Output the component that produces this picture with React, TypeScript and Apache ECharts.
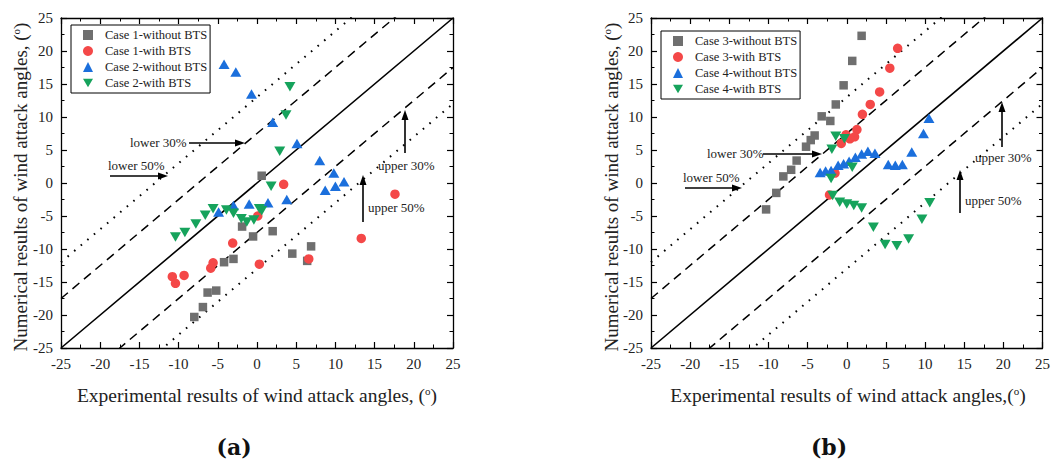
import React, { useEffect, useRef } from "react";
import * as echarts from "echarts";

// ---------- data (panel a) ----------
const case1Without = [
  [0.6, 1.1], [2.0, -7.3], [-0.5, -8.1], [-1.9, -6.6], [-3.0, -11.5], [-4.2, -12.0],
  [-5.2, -16.3], [-6.3, -16.6], [-6.9, -18.8], [-8.0, -20.3], [4.5, -10.7], [6.9, -9.6], [6.4, -11.8],
];
const case1With = [
  [-3.1, -9.1], [-5.6, -12.1], [-5.9, -12.9], [-9.3, -14.0], [-10.8, -14.2], [-10.4, -15.2],
  [0.1, -5.0], [0.3, -12.3], [3.4, -0.2], [17.6, -1.7], [13.3, -8.4], [6.6, -11.5],
];
const case2Without = [
  [-4.2, 18.0], [-2.7, 16.8], [-0.7, 13.5], [2.0, 9.2], [5.1, 6.0], [8.0, 3.4], [9.8, 1.5],
  [11.1, 0.2], [8.7, -1.1], [10.0, -0.5], [-1.0, -3.2], [1.4, -3.0], [3.8, -2.5], [-3.0, -3.4], [-4.9, -4.4],
];
const case2With = [
  [4.2, 14.6], [3.7, 10.3], [2.9, 4.8], [1.8, -0.5], [0.6, -4.2], [0.3, -3.9], [-0.4, -5.6],
  [-1.3, -5.9], [-2.0, -5.4], [-3.0, -4.6], [-3.9, -4.1], [-5.6, -3.9], [-6.6, -4.9], [-7.8, -6.2],
  [-9.2, -7.5], [-10.4, -8.2],
];

// ---------- data (panel b) ----------
const case3Without = [
  [1.9, 22.3], [0.7, 18.5], [-0.4, 14.8], [-1.4, 11.9], [-3.2, 10.1], [-2.1, 9.4], [-4.1, 7.2],
  [-4.6, 6.5], [-5.2, 5.5], [-6.4, 3.4], [-7.1, 2.0], [-8.1, 1.0], [-9.0, -1.5], [-10.3, -4.0],
];
const case3With = [
  [6.5, 20.4], [5.5, 17.4], [4.2, 13.8], [3.0, 11.9], [2.0, 10.4], [1.3, 8.1], [1.0, 7.0],
  [0.4, 6.7], [-0.1, 7.3], [-0.7, 6.0], [-1.5, 1.5], [-2.2, -1.8],
];
const case4Without = [
  [-3.4, 1.6], [-2.7, 1.8], [-2.0, 1.9], [-1.1, 2.7], [-0.4, 2.9], [0.3, 3.3], [1.1, 3.9],
  [1.9, 4.4], [2.7, 4.8], [3.6, 4.5], [5.3, 2.8], [6.2, 2.7], [7.1, 2.8], [8.3, 4.7], [9.8, 7.5], [10.5, 9.8],
];
const case4With = [
  [-1.4, 7.1], [-0.3, 6.7], [-1.9, 5.1], [0.7, 2.4], [-2.0, 0.7], [-1.8, -1.9], [-0.9, -2.9],
  [0.0, -3.2], [0.9, -3.4], [1.9, -3.8], [3.4, -6.7], [4.9, -9.3], [6.4, -9.5], [7.9, -8.5],
  [9.6, -5.5], [10.6, -3.0],
];

const legendA = ["Case 1-without BTS", "Case 1-with BTS", "Case 2-without BTS", "Case 2-with BTS"];
const legendB = ["Case 3-without BTS", "Case 3-with BTS", "Case 4-without BTS", "Case 4-with BTS"];

// reference lines: y = x + offset
const axisMin = -25;
const axisMax = 25;
const tickStep = 5;
const dashedOffset = 7.5;
const dottedOffset = 13;

const FONT = "'Liberation Serif', 'Times New Roman', serif";
const GRAY = "#6f6f6f";
const RED = "#f44848";
const BLUE = "#1b6fdc";
const GREEN = "#16a35c";
const DOWN_TRI = "path://M0,0L20,0L10,17Z";

function axis(gridIndex: number, position: string, showLabel: boolean) {
  return {
    type: "value",
    gridIndex,
    position,
    min: axisMin,
    max: axisMax,
    interval: tickStep,
    axisLine: { show: true, onZero: false, lineStyle: { color: "#000", width: 1.3 } },
    axisTick: { show: true, inside: true, length: 6, lineStyle: { color: "#000", width: 1.2 } },
    minorTick: { show: true, splitNumber: 2, length: 3.5, lineStyle: { color: "#000", width: 1 } },
    splitLine: { show: false },
    axisLabel: { show: showLabel, fontFamily: FONT, fontSize: 15, color: "#222", margin: 8 },
  };
}

function refLines(xi: number, yi: number) {
  const mk = (d: number, type: any, width: number) => ({
    type: "line",
    xAxisIndex: xi,
    yAxisIndex: yi,
    data: [[axisMin, axisMin + d], [axisMax, axisMax + d]],
    symbol: "none",
    silent: true,
    clip: true,
    lineStyle: { color: "#000", width, type },
    z: 1,
  });
  return [
    mk(0, "solid", 1.6),
    mk(dashedOffset, [9, 6], 1.5),
    mk(-dashedOffset, [9, 6], 1.5),
    mk(dottedOffset, [1.6, 7], 2),
    mk(-dottedOffset, [1.6, 7], 2),
  ];
}

function scatter(name: string, data: number[][], xi: number, yi: number, kind: string) {
  const map: any = {
    sq: { symbol: "rect", symbolSize: 8.5, color: GRAY },
    ci: { symbol: "circle", symbolSize: 9.5, color: RED },
    up: { symbol: "triangle", symbolSize: [11, 9.5], color: BLUE },
    dn: { symbol: DOWN_TRI, symbolSize: [11, 9.5], color: GREEN },
  };
  const m = map[kind];
  return {
    type: "scatter",
    name,
    data,
    xAxisIndex: xi,
    yAxisIndex: yi,
    symbol: m.symbol,
    symbolSize: m.symbolSize,
    itemStyle: { color: m.color, opacity: 1 },
    z: 3,
  };
}

function arrow(x1: number, y1: number, x2: number, y2: number) {
  const len = 10;
  const half = 3.5;
  const dx = x2 - x1;
  const dy = y2 - y1;
  const L = Math.sqrt(dx * dx + dy * dy);
  const ux = dx / L;
  const uy = dy / L;
  const bx = x2 - ux * len;
  const by = y2 - uy * len;
  return [
    { type: "line", shape: { x1, y1, x2: bx, y2: by }, style: { stroke: "#000", lineWidth: 1.6 } },
    {
      type: "polygon",
      shape: { points: [[x2, y2], [bx - uy * half, by + ux * half], [bx + uy * half, by - ux * half]] },
      style: { fill: "#000" },
    },
  ];
}

function label(text: string, x: number, y: number) {
  return {
    type: "text",
    x,
    y,
    style: { text, fontFamily: FONT, fontSize: 13, fill: "#222", textAlign: "left", textVerticalAlign: "middle" },
  };
}

function title(prefix: string, x: number, y: number, rot: number, size: number) {
  return {
    type: "text",
    x,
    y,
    rotation: rot,
    style: {
      text: prefix + "({s|o})",
      fontFamily: FONT,
      fontSize: size,
      fill: "#222",
      textAlign: "center",
      textVerticalAlign: "middle",
      rich: { s: { fontFamily: FONT, fontSize: 11, fill: "#222", verticalAlign: "top", padding: [0, 0, 0, 0] } },
    },
  };
}

function legend(names: string[], left: number, top: number) {
  return {
    data: names,
    left,
    top,
    orient: "vertical",
    itemWidth: 10,
    itemHeight: 10,
    itemGap: 2,
    padding: [3, 3, 3, 12],
    borderColor: "#000",
    borderWidth: 1,
    backgroundColor: "#fff",
    textStyle: { fontFamily: FONT, fontSize: 12.5, color: "#222", lineHeight: 14, padding: [0, 0, 0, 7] },
  };
}

export default function App() {
  const ref = useRef<HTMLDivElement>(null);
  useEffect(() => {
    if (!ref.current) return;
    const chart = echarts.init(ref.current, undefined, { renderer: "svg" });
    chart.setOption({
      animation: false,
      backgroundColor: "#fff",
      grid: [
        { left: 61, top: 18, width: 392, height: 330 },
        { left: 651, top: 18, width: 393, height: 330 },
      ],
      xAxis: [axis(0, "bottom", true), axis(0, "top", false), axis(1, "bottom", true), axis(1, "top", false)],
      yAxis: [axis(0, "left", true), axis(0, "right", false), axis(1, "left", true), axis(1, "right", false)],
      legend: [legend(legendA, 71, 25), legend(legendB, 661, 31)],
      series: [
        ...refLines(0, 0),
        ...refLines(2, 2),
        scatter(legendA[0], case1Without, 0, 0, "sq"),
        scatter(legendA[1], case1With, 0, 0, "ci"),
        scatter(legendA[2], case2Without, 0, 0, "up"),
        scatter(legendA[3], case2With, 0, 0, "dn"),
        scatter(legendB[0], case3Without, 2, 2, "sq"),
        scatter(legendB[1], case3With, 2, 2, "ci"),
        scatter(legendB[2], case4Without, 2, 2, "up"),
        scatter(legendB[3], case4With, 2, 2, "dn"),
      ],
      graphic: [
        label("lower 30%", 130, 142),
        ...arrow(189, 143, 245, 143),
        label("lower 50%", 108, 165),
        ...arrow(110, 176, 168, 176),
        label("upper 30%", 378, 165),
        ...arrow(405, 153, 405, 110),
        label("upper 50%", 368, 207),
        ...arrow(363, 222, 363, 175),
        label("lower 30%", 707, 153),
        ...arrow(763, 154, 822, 154),
        label("lower 50%", 683, 177),
        ...arrow(685, 188, 742, 188),
        label("upper 30%", 975, 157),
        ...arrow(1002, 147, 1002, 102),
        label("upper 50%", 965, 200),
        ...arrow(960, 213, 960, 170),
        title("Experimental results of wind attack angles, ", 257, 395, 0, 19.5),
        title("Experimental results of wind attack angles,", 848, 395, 0, 19.5),
        title("Numerical results of wind attack angles, ", 20, 187, Math.PI / 2, 19),
        title("Numerical results of wind attack angles, ", 611, 187, Math.PI / 2, 19),
        {
          type: "text",
          x: 234,
          y: 447,
          style: { text: "(a)", fontFamily: "'DejaVu Serif', serif", fontWeight: "bold", fontSize: 22, fill: "#111", textAlign: "center", textVerticalAlign: "middle" },
        },
        {
          type: "text",
          x: 829,
          y: 447,
          style: { text: "(b)", fontFamily: "'DejaVu Serif', serif", fontWeight: "bold", fontSize: 22, fill: "#111", textAlign: "center", textVerticalAlign: "middle" },
        },
      ],
    });
    return () => chart.dispose();
  }, []);
  return <div ref={ref} style={{ position: "fixed", left: 0, top: 0, width: 1053, height: 462 }} />;
}
